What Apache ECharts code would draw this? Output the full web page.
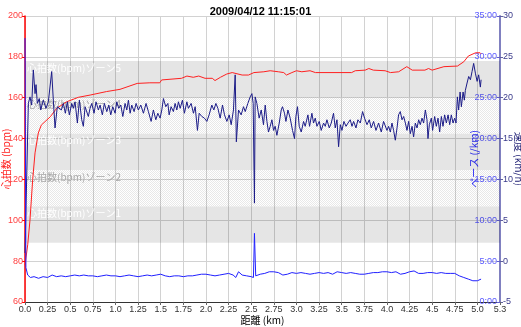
<!DOCTYPE html>
<html><head><meta charset="utf-8">
<script src="https://cdn.jsdelivr.net/npm/echarts@6/dist/echarts.min.js"></script>
<style>html,body{margin:0;padding:0;background:#fff}#c{width:521px;height:327px}</style>
</head><body><div id="c"></div>
<script>
const titleText = '2009/04/12 11:15:01';
const xTickLabels = ['0.0','0.25','0.5','0.75','1.0','1.25','1.5','1.75','2.0','2.25','2.5','2.75','3.0','3.25','3.5','3.75','4.0','4.25','4.5','4.75','5.0','5.3'];
const paceTickLabels = ['0:00','5:00','10:00','15:00','20:00','25:00','30:00','35:00'];
const zoneBounds = [89, 106.8, 124.6, 142.4, 160.2, 178];
const zoneNames = ['心拍数(bpm)ゾーン1','心拍数(bpm)ゾーン2','心拍数(bpm)ゾーン3','心拍数(bpm)ゾーン4','心拍数(bpm)ゾーン5'];

const heartRate = [[0,78],[0.012,82],[0.03,88],[0.055,100],[0.085,120],[0.111,133],[0.147,142.7],[0.18,146.6],[0.28,150.7],[0.35,154.8],[0.46,158],[0.59,160.2],[0.72,161.3],[0.9,163],[1.05,164.1],[1.24,167],[1.38,167.3],[1.49,167.3],[1.51,168.7],[1.73,169.5],[1.79,170.6],[1.86,170],[1.92,170.6],[1.99,169.5],[2.07,169.5],[2.10,168.4],[2.16,170],[2.23,171.6],[2.29,172.3],[2.40,171.1],[2.47,171.1],[2.53,172.3],[2.64,172.7],[2.71,173.2],[2.80,172.7],[2.86,172.3],[2.89,171.1],[2.95,172.3],[3.0,173.2],[3.06,172.7],[3.15,173.2],[3.21,172.3],[3.61,172.3],[3.65,173.2],[3.76,173.5],[3.80,174.3],[3.85,173.5],[3.98,173.2],[4.04,172.3],[4.13,172.7],[4.22,175.2],[4.28,173.5],[4.42,173.5],[4.46,174.3],[4.50,173.5],[4.63,175.2],[4.78,175.5],[4.85,177.6],[4.90,180.4],[4.98,182],[5.03,182],[5.041,181.5]];

const speed = [[0,1.0],[0.037,19.3],[0.055,20.1],[0.074,19.1],[0.092,23.4],[0.111,20.5],[0.122,21.6],[0.136,19.3],[0.158,19.9],[0.174,18.5],[0.202,19.7],[0.232,18.7],[0.258,19.5],[0.295,23.2],[0.313,19.7],[0.332,16.3],[0.357,18.9],[0.379,19.1],[0.402,18.5],[0.424,19.3],[0.446,18.1],[0.468,19.5],[0.490,17.9],[0.517,19.3],[0.534,18.7],[0.553,19.5],[0.579,16.9],[0.601,19.7],[0.627,17.3],[0.645,16.5],[0.664,18.9],[0.683,19.1],[0.700,17.7],[0.719,18.7],[0.738,19.3],[0.763,18.1],[0.785,19.5],[0.811,18.5],[0.830,19.1],[0.855,17.9],[0.877,19.3],[0.904,18.3],[0.926,19.1],[0.948,17.9],[0.970,18.9],[0.996,18.1],[1.014,19.5],[1.036,18.7],[1.059,19.1],[1.081,17.7],[1.106,19.3],[1.125,18.5],[1.143,19.7],[1.162,18.1],[1.180,19.1],[1.206,18.3],[1.228,19.3],[1.253,18.5],[1.280,19.1],[1.309,18.1],[1.338,19.3],[1.364,18.3],[1.394,17.1],[1.419,18.5],[1.446,17.3],[1.468,18.1],[1.493,17.5],[1.512,18.5],[1.530,19.9],[1.556,18.9],[1.579,19.3],[1.593,17.9],[1.615,18.9],[1.640,18.3],[1.659,19.3],[1.678,18.5],[1.696,19.5],[1.715,18.7],[1.740,19.7],[1.762,18.1],[1.789,19.5],[1.806,18.7],[1.836,19.3],[1.862,18.1],[1.881,18.9],[1.906,16.0],[1.925,18.1],[1.955,17.7],[1.983,17.5],[2.010,17.1],[2.035,17.9],[2.065,19.1],[2.087,18.5],[2.110,19.3],[2.132,18.7],[2.157,17.5],[2.183,19.1],[2.205,17.9],[2.231,17.1],[2.257,17.9],[2.279,16.7],[2.304,18.5],[2.323,22.8],[2.336,14.6],[2.360,18.5],[2.389,17.9],[2.415,18.9],[2.434,18.3],[2.463,19.3],[2.489,20.1],[2.508,20.5],[2.522,19.3],[2.536,7.1],[2.544,20.1],[2.563,19.3],[2.588,17.5],[2.611,18.5],[2.636,16.7],[2.655,19.1],[2.674,17.1],[2.691,15.8],[2.710,16.5],[2.729,17.3],[2.747,16.0],[2.765,16.5],[2.784,15.4],[2.810,16.9],[2.832,18.5],[2.846,18.9],[2.868,18.1],[2.884,17.1],[2.906,18.5],[2.931,17.5],[2.957,16.0],[2.979,15.0],[2.994,17.7],[3.012,18.9],[3.031,16.5],[3.053,15.8],[3.079,17.1],[3.097,16.5],[3.127,17.9],[3.145,16.5],[3.171,18.1],[3.189,16.9],[3.208,17.5],[3.227,16.5],[3.252,17.1],[3.274,16.0],[3.300,16.9],[3.319,16.5],[3.337,17.3],[3.363,16.3],[3.385,16.9],[3.410,18.1],[3.429,16.3],[3.448,17.3],[3.466,14.0],[3.485,16.7],[3.503,16.0],[3.525,17.1],[3.548,16.5],[3.570,16.9],[3.595,17.3],[3.614,16.5],[3.632,17.1],[3.658,16.3],[3.680,17.3],[3.706,16.9],[3.731,18.3],[3.753,17.5],[3.780,16.7],[3.805,17.3],[3.827,16.3],[3.853,17.1],[3.879,16.0],[3.908,16.9],[3.938,15.8],[3.963,17.1],[4.001,16.0],[4.019,16.5],[4.038,15.8],[4.056,16.9],[4.074,16.0],[4.093,14.8],[4.112,16.3],[4.129,17.9],[4.148,18.3],[4.167,17.3],[4.185,17.7],[4.204,16.9],[4.222,16.0],[4.240,17.1],[4.259,15.6],[4.278,16.5],[4.295,15.2],[4.314,16.9],[4.333,16.3],[4.351,17.3],[4.369,16.7],[4.388,17.5],[4.406,16.9],[4.425,18.5],[4.443,17.3],[4.454,15.0],[4.469,16.7],[4.491,17.5],[4.505,16.0],[4.528,17.7],[4.546,16.5],[4.565,17.5],[4.583,15.8],[4.602,17.7],[4.620,16.5],[4.638,17.9],[4.657,16.9],[4.676,17.9],[4.694,16.7],[4.712,17.9],[4.731,16.9],[4.749,17.5],[4.764,16.9],[4.779,20.1],[4.793,18.5],[4.809,20.7],[4.823,18.9],[4.842,20.7],[4.856,19.7],[4.867,20.9],[4.886,21.8],[4.904,22.6],[4.923,22.2],[4.941,23.2],[4.959,24.2],[4.978,23.0],[4.997,22.0],[5.014,22.8],[5.033,21.3],[5.041,22.2]];

const pace = [[0,32.3],[0.01,4.2],[0.03,3.3],[0.06,3.0],[0.1,3.1],[0.15,2.9],[0.2,3.1],[0.25,3.0],[0.3,3.3],[0.35,3.1],[0.4,3.2],[0.45,3.1],[0.5,3.2],[0.55,3.3],[0.6,3.2],[0.65,3.3],[0.7,3.2],[0.75,3.2],[0.8,3.1],[0.85,3.2],[0.9,3.3],[0.95,3.2],[1.0,3.2],[1.05,3.1],[1.1,3.2],[1.15,3.3],[1.2,3.2],[1.25,3.1],[1.3,3.2],[1.35,3.3],[1.4,3.2],[1.45,3.3],[1.5,3.4],[1.55,3.2],[1.6,3.1],[1.65,3.2],[1.7,3.2],[1.75,3.1],[1.8,3.2],[1.85,3.2],[1.9,3.3],[1.95,3.4],[2.0,3.4],[2.05,3.3],[2.1,3.2],[2.15,3.3],[2.2,3.4],[2.25,3.5],[2.3,3.3],[2.33,3.0],[2.36,3.7],[2.4,3.3],[2.45,3.2],[2.5,3.1],[2.525,3.0],[2.536,8.4],[2.55,3.2],[2.6,3.4],[2.65,3.5],[2.7,3.7],[2.75,3.7],[2.8,3.6],[2.85,3.3],[2.9,3.4],[2.95,3.6],[3.0,3.5],[3.05,3.6],[3.1,3.5],[3.15,3.4],[3.2,3.5],[3.25,3.6],[3.3,3.5],[3.35,3.6],[3.4,3.4],[3.45,3.7],[3.5,3.6],[3.55,3.5],[3.6,3.6],[3.65,3.5],[3.7,3.4],[3.75,3.4],[3.8,3.5],[3.85,3.6],[3.9,3.6],[3.95,3.7],[4.0,3.7],[4.05,3.6],[4.1,3.7],[4.15,3.4],[4.2,3.5],[4.25,3.7],[4.3,3.8],[4.35,3.5],[4.4,3.5],[4.45,3.6],[4.5,3.6],[4.55,3.5],[4.6,3.6],[4.65,3.5],[4.7,3.5],[4.75,3.5],[4.8,3.2],[4.85,3.0],[4.9,2.8],[4.95,2.6],[5.0,2.6],[5.02,2.7],[5.041,2.8]];

// hatched pattern
const pat = document.createElement('canvas');
pat.width = 2; pat.height = 2;
const pc = pat.getContext('2d');
pc.fillStyle = 'rgba(0,0,0,0.09)';
pc.fillRect(0,0,1,1); pc.fillRect(1,1,1,1);
const hatch = {image: pat, repeat: 'repeat'};

const numFont = "'Liberation Sans Narrow','Liberation Sans',sans-serif";
const cjkFont = "'Noto Sans CJK JP',sans-serif";

const zoneAreas = zoneNames.map((nm, i) => {
  const grayBand = (i % 2 === 0);
  return [{
    yAxis: zoneBounds[i + 1], name: nm,
    itemStyle: {color: grayBand ? 'rgba(0,0,0,0.1)' : hatch},
    label: {show: true, position: 'insideTopLeft', distance: 2, color: grayBand ? '#ffffff' : '#a8a8a8', fontSize: 10, fontFamily: cjkFont}
  }, {yAxis: zoneBounds[i]}];
});

const chart = echarts.init(document.getElementById('c'), null, {renderer: 'canvas'});
chart.setOption({
  animation: false,
  backgroundColor: '#fff',
  title: {text: titleText, left: 'center', top: 1, textStyle: {fontSize: 11, fontWeight: 'bold', color: '#000', fontFamily: "'Liberation Sans',sans-serif"}},
  grid: {left: 25, right: 21, top: 16, bottom: 25, containLabel: false, outerBoundsMode: 'none'},
  xAxis: {
    type: 'value', min: 0, max: 5.25, interval: 0.25,
    name: '距離 (km)', nameLocation: 'middle', nameGap: 13, nameMoveOverlap: false,
    nameTextStyle: {color: '#000', fontSize: 10, fontFamily: cjkFont},
    axisLine: {lineStyle: {color: '#333', width: 1}},
    axisTick: {length: 3, lineStyle: {color: '#666'}},
    axisLabel: {fontSize: 9, color: '#333', margin: 3, fontFamily: numFont, hideOverlap: false,
      formatter: v => xTickLabels[Math.round(v / 0.25)]},
    splitLine: {show: true, lineStyle: {color: '#d2d2d2', width: 1}}
  },
  yAxis: [
    {type: 'value', min: 60, max: 200, interval: 20, position: 'left',
      name: '心拍数 (bpm)', nameLocation: 'middle', nameRotate: 90, nameGap: 14, nameMoveOverlap: false,
      nameTextStyle: {color: '#ff2020', fontSize: 10, fontFamily: cjkFont},
      axisLine: {show: true, lineStyle: {color: '#ff0000', width: 1.5}},
      axisTick: {show: true, length: 3, lineStyle: {color: '#ff0000'}},
      axisLabel: {color: '#ff4040', fontSize: 9, margin: 2, fontFamily: numFont},
      splitLine: {show: true, lineStyle: {color: '#d2d2d2', width: 1}}},
    {type: 'value', min: 0, max: 35, interval: 5, position: 'right',
      name: 'ペース (/km)', nameLocation: 'middle', nameRotate: 90, nameGap: -31, nameMoveOverlap: false,
      nameTextStyle: {color: '#2a2aff', fontSize: 10, fontFamily: cjkFont},
      axisLine: {show: true, onZero: false, lineStyle: {color: '#8080c0', width: 2}},
      axisTick: {show: true, inside: true, length: 3, lineStyle: {color: '#6060d0'}},
      axisLabel: {inside: true, color: '#5a5aff', fontSize: 9, margin: 3, fontFamily: numFont,
        formatter: v => paceTickLabels[Math.round(v / 5)]},
      splitLine: {show: false}},
    {type: 'value', min: -5, max: 30, interval: 5, position: 'right',
      name: '速度 (km/h)', nameLocation: 'middle', nameRotate: -90, nameGap: 14, nameMoveOverlap: false,
      nameTextStyle: {color: '#1a1a70', fontSize: 10, fontFamily: cjkFont},
      axisLine: {show: false, onZero: false},
      axisTick: {show: true, length: 3, lineStyle: {color: '#6060a0'}},
      axisLabel: {color: '#3a3a8a', fontSize: 9, margin: 3, fontFamily: numFont},
      splitLine: {show: false}}
  ],
  series: [
    {type: 'line', name: 'hr', yAxisIndex: 0, data: heartRate, showSymbol: false,
      lineStyle: {color: '#ff2020', width: 1}, z: 3,
      markArea: {silent: true, z: 1, data: zoneAreas}},
    {type: 'line', name: 'speed', yAxisIndex: 2, data: speed, showSymbol: false,
      lineStyle: {color: '#1c1c88', width: 1}, z: 4},
    {type: 'line', name: 'pace', yAxisIndex: 1, data: pace, showSymbol: false,
      lineStyle: {color: '#2020ff', width: 1}, z: 5}
  ]
});
</script>
</body></html>
